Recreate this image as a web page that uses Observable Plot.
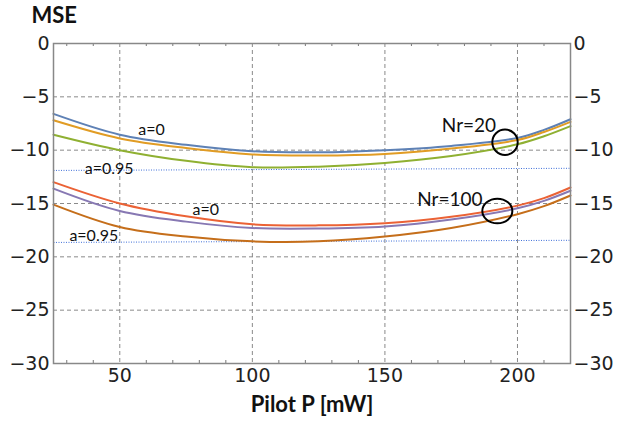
<!DOCTYPE html>
<html><head><meta charset="utf-8">
<script src="https://cdn.jsdelivr.net/npm/d3@7"></script>
<script src="https://cdn.jsdelivr.net/npm/@observablehq/plot@0.6"></script>
<style>body{margin:0;background:#fff}</style>
</head><body><div id="chart"></div>
<script>
// x values (Pilot P, mW)
const pilot = [25, 50, 75, 100, 125, 150, 175, 200, 210, 220];
// Nr = 20
const nr20_a0_blue   = [-6.6, -8.55, -9.5, -10.1, -10.2, -10.0, -9.6, -8.85, -8.1, -7.1];
const nr20_mid_orange= [-7.2, -8.9, -9.8, -10.4, -10.5, -10.35, -9.85, -9.05, -8.3, -7.35];
const nr20_a95_green = [-8.55, -10.0, -11.0, -11.6, -11.55, -11.2, -10.55, -9.45, -8.7, -7.75];
// Nr = 100
const nr100_a0_red    = [-13.0, -15.0, -16.2, -16.95, -17.05, -16.85, -16.25, -15.2, -14.5, -13.5];
const nr100_mid_purple= [-13.6, -15.7, -16.7, -17.3, -17.35, -17.15, -16.5, -15.45, -14.75, -13.8];
const nr100_a95_brown = [-15.1, -17.2, -18.1, -18.55, -18.55, -18.1, -17.3, -16.0, -15.25, -14.25];

const seriesList = [
  {name: "Nr20 a=0", values: nr20_a0_blue, color: "#5E81B5"},
  {name: "Nr20 mid", values: nr20_mid_orange, color: "#E19C24"},
  {name: "Nr20 a=0.95", values: nr20_a95_green, color: "#8FB032"},
  {name: "Nr100 a=0", values: nr100_a0_red, color: "#EB6235"},
  {name: "Nr100 mid", values: nr100_mid_purple, color: "#8778B3"},
  {name: "Nr100 a=0.95", values: nr100_a95_brown, color: "#C56E1A"}
];

// reference dotted lines (a=0.95 minimum levels)
const refLines = [
  {x1: 25, y1: -11.9, x2: 220, y2: -11.7},
  {x1: 25, y1: -18.65, x2: 220, y2: -18.45}
];

// annotations
const smallLabels = [
  {text: "a=0", P: 62.0, mse: -8.12},
  {text: "a=0.95", P: 46.0, mse: -11.72},
  {text: "a=0", P: 82.4, mse: -15.56},
  {text: "a=0.95", P: 40.2, mse: -18.08}
];
const bigLabels = [
  {text: "Nr=20", P: 181.7, mse: -7.7},
  {text: "Nr=100", P: 174.5, mse: -14.67}
];
const circles = [
  {P: 195.3, mse: -9.26, r: 12.7, kx: 1.0},
  {P: 192.4, mse: -15.7, r: 12.3, kx: 1.22}
];

const xMajor = [50, 100, 150, 200];
const xMinor = [30, 40, 60, 70, 80, 90, 110, 120, 130, 140, 160, 170, 180, 190, 210];
const yTicks = [0, -5, -10, -15, -20, -25, -30];
const yGrid = [-5, -10, -15, -20, -25];

function ellipse(kx) {
  return {draw(ctx, size) {
    const r = Math.sqrt(size / Math.PI), rx = r * kx, ry = r, k = 0.5523;
    ctx.moveTo(rx, 0);
    ctx.bezierCurveTo(rx, ry * k, rx * k, ry, 0, ry);
    ctx.bezierCurveTo(-rx * k, ry, -rx, ry * k, -rx, 0);
    ctx.bezierCurveTo(-rx, -ry * k, -rx * k, -ry, 0, -ry);
    ctx.bezierCurveTo(rx * k, -ry, rx, -ry * k, rx, 0);
    ctx.closePath();
  }};
}

const fmt = d => d < 0 ? "\u2212" + (-d) : String(d);
const gridStyle = {stroke: "#8a8a8a", strokeOpacity: 1, strokeWidth: 1, strokeDasharray: "4,3"};

const marks = [
  Plot.gridX(xMajor, gridStyle),
  Plot.gridY(yGrid, gridStyle),
  Plot.ruleX(xMinor, {x: d => d, y1: -30, y2: -30, insetBottom: 3, stroke: "#777"}),
  Plot.ruleX(xMinor, {x: d => d, y1: 0, y2: 0, insetTop: 3, stroke: "#777"}),
  Plot.link(refLines, {x1: "x1", y1: "y1", x2: "x2", y2: "y2", stroke: "#3F6FD8", strokeWidth: 1, strokeDasharray: "1,1.5"})
];
for (const s of seriesList) {
  const rows = pilot.map((p, i) => ({P: p, mse: s.values[i]}));
  marks.push(Plot.line(rows, {x: "P", y: "mse", stroke: s.color, strokeWidth: 2, curve: "catmull-rom"}));
}
marks.push(
  Plot.frame({stroke: "#888", strokeWidth: 1.5}),
  Plot.axisY(yTicks, {anchor: "left", tickSize: 0, tickPadding: 4, tickFormat: fmt, label: null, fontSize: 19, fill: "#222"}),
  Plot.axisY(yTicks, {anchor: "right", tickSize: 0, tickPadding: 3, tickFormat: fmt, label: null, fontSize: 19, fill: "#222"}),
  Plot.axisX(xMajor, {anchor: "bottom", tickSize: 0, tickPadding: 5, tickFormat: fmt, label: null, fontSize: 19, fill: "#222"}),
  Plot.text(smallLabels, {x: "P", y: "mse", text: "text", fontFamily: "Lato", fontSize: 16, fill: "#111", lineAnchor: "middle"}),
  Plot.text(bigLabels, {x: "P", y: "mse", text: "text", fontFamily: "Lato", fontSize: 19, fill: "#111", lineAnchor: "middle"}),
  Plot.dot([circles[0]], {x: "P", y: "mse", r: circles[0].r, symbol: ellipse(circles[0].kx), stroke: "black", strokeWidth: 2, fill: "none"}),
  Plot.dot([circles[1]], {x: "P", y: "mse", r: circles[1].r, symbol: ellipse(circles[1].kx), stroke: "black", strokeWidth: 2, fill: "none"}),
  Plot.text(["MSE"], {frameAnchor: "top-left", text: d => d, textAnchor: "start", lineAnchor: "top", dx: -22, dy: -36, fontFamily: "Lato", fontWeight: "bold", fontSize: 22, fill: "#111"}),
  Plot.text(["Pilot P [mW]"], {frameAnchor: "bottom", text: d => d, lineAnchor: "top", dy: 33, fontFamily: "Lato", fontWeight: "bold", fontSize: 22, fill: "#111"})
);

const chart = Plot.plot({
  width: 625,
  height: 421,
  marginLeft: 53,
  marginRight: 55,
  marginTop: 43,
  marginBottom: 58,
  x: {domain: [25, 220]},
  y: {domain: [-30, 0]},
  style: {fontFamily: "DejaVu Sans", fontSize: "19px", background: "white", color: "#222"},
  marks
});
document.getElementById("chart").appendChild(chart);
</script>
</body></html>
